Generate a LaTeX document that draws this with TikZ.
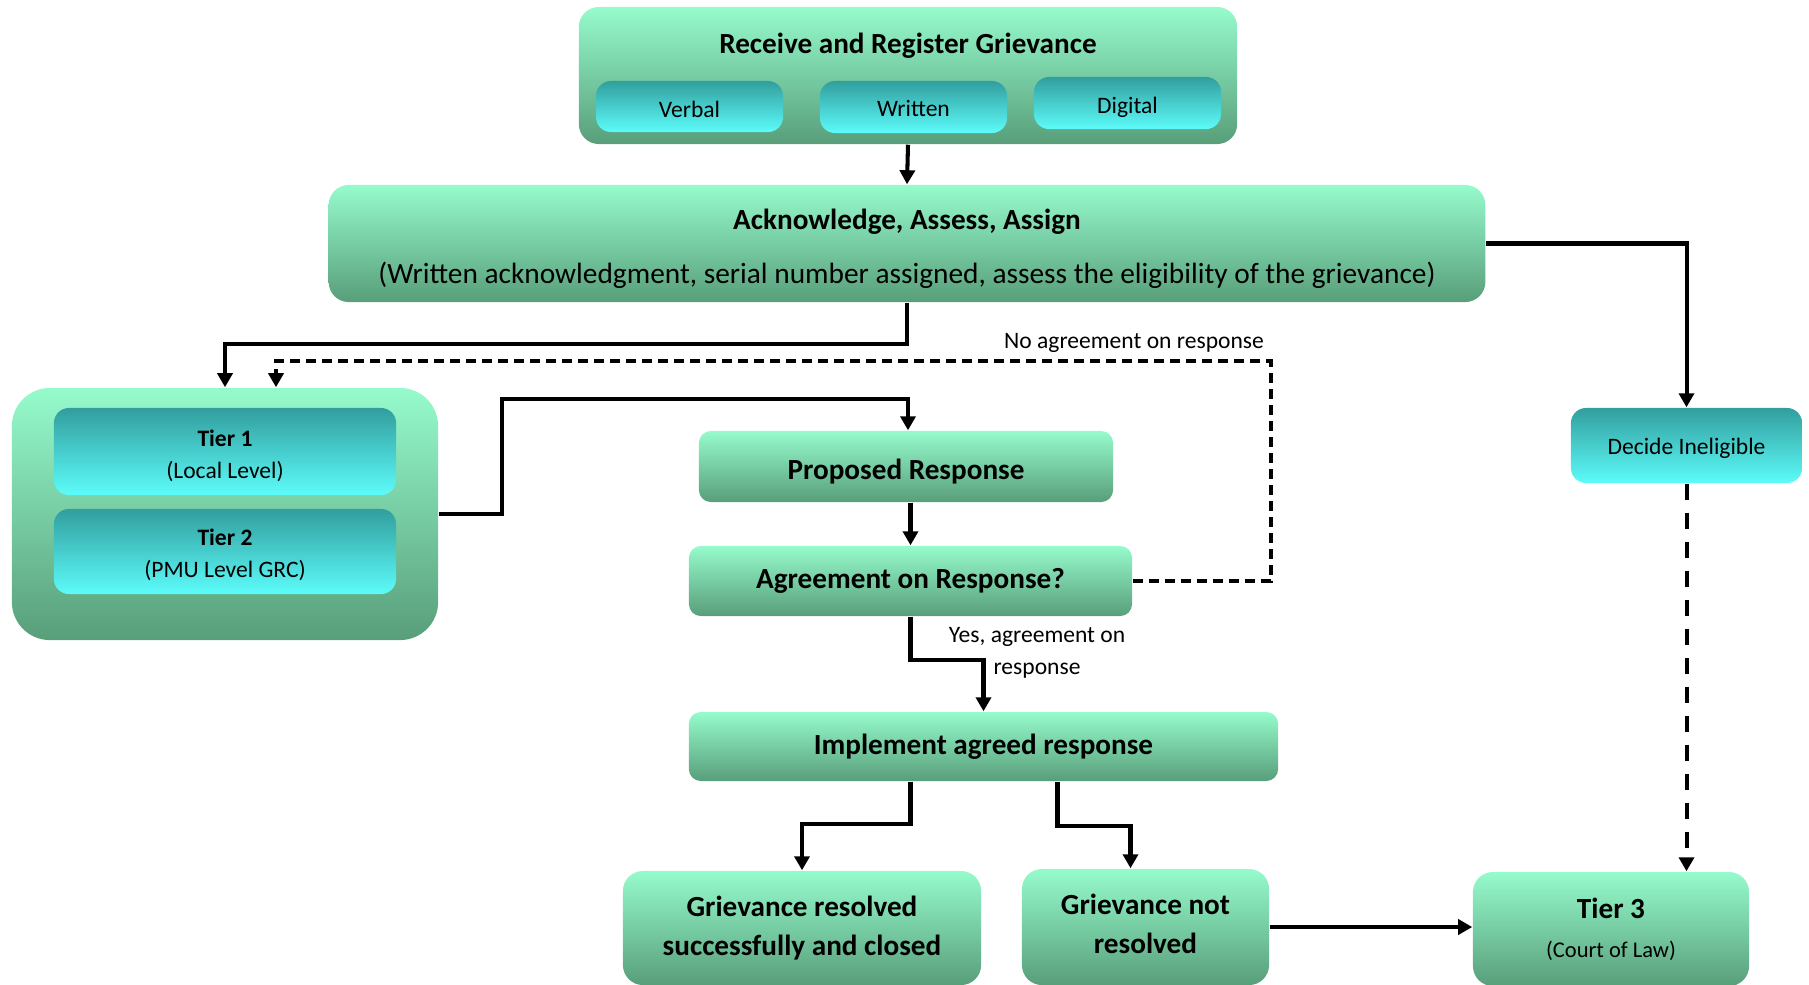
\documentclass[tikz,border=0pt]{standalone}
\usepackage{fontspec}
\setmainfont{Carlito}
\usetikzlibrary{arrows.meta,calc}
\definecolor{grtop}{RGB}{150,251,204}
\definecolor{grbot}{RGB}{88,158,122}
\definecolor{cytop}{RGB}{50,158,158}
\definecolor{cybot}{RGB}{92,252,250}
\newcommand{\bigfont}{\fontsize{8.3}{11}\selectfont\bfseries}
\newcommand{\midfont}{\fontsize{6.7}{9.1}\selectfont}
\newcommand{\tstrut}[1]{\rule{0pt}{#1}}

\begin{document}
\begin{tikzpicture}[
		x=0.01cm, y=-0.01cm,
		every node/.style={inner sep=0pt, align=center},
		greenbox/.style={rounded corners=0.2cm, top color=grtop, bottom color=grbot},
		cyanbox/.style={rounded corners=0.15cm, top color=cytop, bottom color=cybot},
		flow/.style={line width=1.15pt, -{Triangle[length=1.4mm, width=1.5mm]}},
		noflow/.style={flow, dash pattern=on 1mm off 0.6mm},
		longdash/.style={flow, dash pattern=on 1.6mm off 1.3mm}
	]
  \useasboundingbox (0, 0) rectangle (1809, 984);
  \node (receive) [greenbox, minimum width=6.58cm, minimum height=1.37cm] at (908, 75.5) {};
  \node (receive_title) [font=\bigfont] at (908, 46) {Receive and Register Grievance};
  \node (verbal) [cyanbox, minimum width=1.87cm, minimum height=0.51cm, font=\midfont] at (689.5, 106.5) {\tstrut{6.1pt}Verbal};
  \node (written) [cyanbox, minimum width=1.87cm, minimum height=0.52cm, font=\midfont] at (913.5, 107) {\tstrut{5.5pt}Written};
  \node (digital) [cyanbox, minimum width=1.87cm, minimum height=0.52cm, font=\midfont] at (1127.5, 103) {\tstrut{7.4pt}Digital};
  \node (ack) [greenbox, minimum width=11.56cm, minimum height=1.17cm, font=\fontsize{8.35}{15.4}\selectfont] at (907, 243.5)
    {{\bigfont\tstrut{8.7pt}Acknowledge, Assess, Assign}\\(Written acknowledgment, serial number assigned, assess the eligibility of the grievance)};
  \node (decide) [cyanbox, minimum width=2.31cm, minimum height=0.75cm, font=\midfont] at (1686.5, 445.5) {\tstrut{6.1pt}Decide Ineligible};
  \node (tiers) [greenbox, rounded corners=0.38cm, minimum width=4.26cm, minimum height=2.52cm] at (225, 514) {};
  \node (tier1) [cyanbox, minimum width=3.42cm, minimum height=0.87cm, font=\midfont] at (225, 451.5)
    {{\bfseries\tstrut{7.1pt}Tier 1}\\(Local Level)};
  \node (tier2) [cyanbox, minimum width=3.42cm, minimum height=0.85cm, font=\midfont] at (225, 551.5)
    {{\bfseries\tstrut{6.4pt}Tier 2}\\(PMU Level GRC)};
  \node (proposed) [greenbox, rounded corners=0.12cm, minimum width=4.14cm, minimum height=0.71cm, font=\bigfont] at (906, 466.5) {\tstrut{8.8pt}Proposed Response};
  \node (agree) [greenbox, rounded corners=0.12cm, minimum width=4.43cm, minimum height=0.70cm, font=\bigfont] at (910.5, 581) {Agreement on Response?};
  \node (implement) [greenbox, rounded corners=0.12cm, minimum width=5.89cm, minimum height=0.69cm, font=\bigfont] at (983.5, 746.5) {Implement agreed response};
  \node (resolved) [greenbox, minimum width=3.58cm, minimum height=1.14cm, font=\bigfont] at (802, 928) {Grievance resolved\\successfully and closed};
  \node (notres) [greenbox, minimum width=2.47cm, minimum height=1.16cm, font=\bigfont] at (1145.5, 927) {Grievance not\\resolved\rule[-1.8pt]{0pt}{0pt}};
  \node (tier3) [greenbox, minimum width=2.76cm, minimum height=1.14cm, font=\bigfont] at (1611, 929)
    {Tier 3\\{\fontsize{6.4}{11}\selectfont\mdseries (Court of Law)}};
  \node (noagree) [font=\midfont] at (1134, 343) {No agreement on response};
  \node (yesagree) [font=\midfont] at (1037, 653) {Yes, agreement on\\response};

  \draw [flow] (receive.south) -- (ack.north);
  \draw [flow] (ack.south) -- ++(0, 41) -| (tiers.north);
  \draw [flow] (ack.east) -| (decide.north);
  \draw [longdash] (decide.south) -- (decide.south |- tier3.north);
  \draw [flow] (tiers.east) -- ++(63, 0) -- ++(0, -115) -| ($(proposed.north)+(2, 0)$);
  \draw [flow] (agree.north |- proposed.south) -- (agree.north);
  \draw [noflow] (agree.east) -- ++(138, 0) |- ($(tiers.north)+(51, -26)$) -- ($(tiers.north)+(51, 0)$);
  \draw [flow] (agree.south) -- ++(0, 43) -| (implement.north);
  \draw [flow] ($(implement.south)+(-73, 0)$) -- ++(0, 42) -| (resolved.north);
  \draw [flow] ($(implement.south)+(74, 0)$) -- ++(0, 44) -| ($(notres.north)+(-15, 0)$);
  \draw [flow] (notres.east) -- (notres.east -| tier3.west);
\end{tikzpicture}
\end{document}
